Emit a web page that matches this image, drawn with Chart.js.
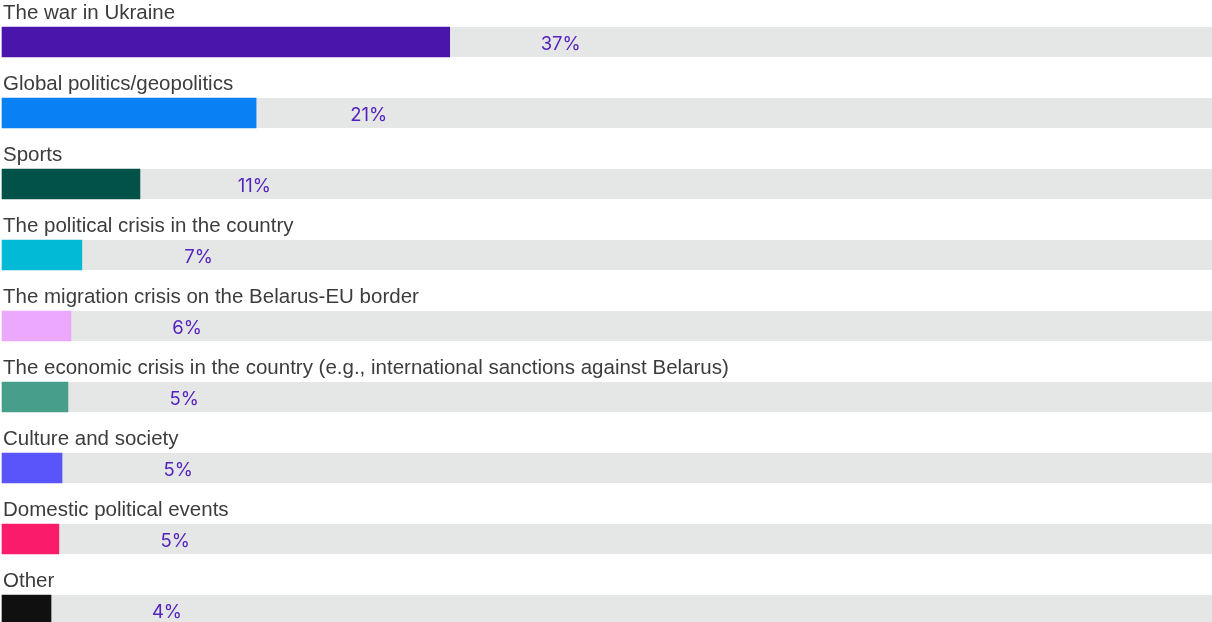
<!DOCTYPE html>
<html>
<head>
<meta charset="utf-8">
<title>Topics followed</title>
<script src="https://cdn.jsdelivr.net/npm/chart.js@4.4.1/dist/chart.umd.min.js"></script>
<style>
  html, body { margin: 0; padding: 0; background: #ffffff; }
  #wrap { position: relative; width: 1212px; height: 622px; }
</style>
</head>
<body>
<div id="wrap"><canvas id="chart"></canvas></div>
<script>
// Share of respondents per topic, in percent
const categories = [
  'The war in Ukraine',
  'Global politics/geopolitics',
  'Sports',
  'The political crisis in the country',
  'The migration crisis on the Belarus-EU border',
  'The economic crisis in the country (e.g., international sanctions against Belarus)',
  'Culture and society',
  'Domestic political events',
  'Other'
];
const shares = [37.0, 21.0, 11.4, 6.6, 5.7, 5.45, 4.96, 4.7, 4.05];
const barColors = [
  '#4915aa', '#0a80f5', '#03524a', '#02b9d6', '#eca8fc',
  '#479e8b', '#5955fb', '#fa1c6a', '#101010'
];
const axisMax = 100;

const TRACK = '#e5e6e6';
const LABEL_COLOR = '#3c3c3c';
const VALUE_COLOR = '#5522bd';

// Grey full-width track behind every bar
const trackPlugin = {
  id: 'tracks',
  beforeDatasetsDraw(chart) {
    const { ctx, scales: { x } } = chart;
    const meta = chart.getDatasetMeta(0);
    const x0 = x.getPixelForValue(0);
    const x1 = x.getPixelForValue(axisMax);
    ctx.save();
    ctx.fillStyle = TRACK;
    meta.data.forEach(bar => {
      const h = bar.height;
      ctx.fillRect(x0, bar.y - h / 2, x1 - x0, h);
    });
    ctx.restore();
  }
};

// Category names above the bars and percentages beside them
const labelPlugin = {
  id: 'labels',
  afterDatasetsDraw(chart) {
    const { ctx } = chart;
    const meta = chart.getDatasetMeta(0);
    ctx.save();
    meta.data.forEach((bar, i) => {
      const top = bar.y - bar.height / 2;
      ctx.font = '20.5px "Liberation Sans", Arial, sans-serif';
      ctx.fillStyle = LABEL_COLOR;
      ctx.textAlign = 'left';
      ctx.textBaseline = 'alphabetic';
      ctx.fillText(categories[i], 3, top - 8);

      ctx.font = '18.5px Inter, sans-serif';
      ctx.fillStyle = VALUE_COLOR;
      ctx.textAlign = 'right';
      ctx.textBaseline = 'middle';
      ctx.fillText(Math.round(shares[i]) + '%', bar.x + 131, bar.y + 2);
    });
    ctx.restore();
  }
};

new Chart(document.getElementById('chart'), {
  type: 'bar',
  data: {
    labels: categories,
    datasets: [{
      data: shares,
      backgroundColor: barColors,
      borderWidth: 0,
      barThickness: 30,
      clip: false
    }]
  },
  options: {
    indexAxis: 'y',
    responsive: true,
    maintainAspectRatio: false,
    animation: false,
    layout: { padding: { top: 42, bottom: 12, left: 2, right: 0 } },
    scales: {
      x: { min: 0, max: axisMax, display: false },
      y: { display: false, offset: false }
    },
    plugins: {
      legend: { display: false },
      tooltip: { enabled: false }
    }
  },
  plugins: [trackPlugin, labelPlugin]
});
</script>
</body>
</html>
